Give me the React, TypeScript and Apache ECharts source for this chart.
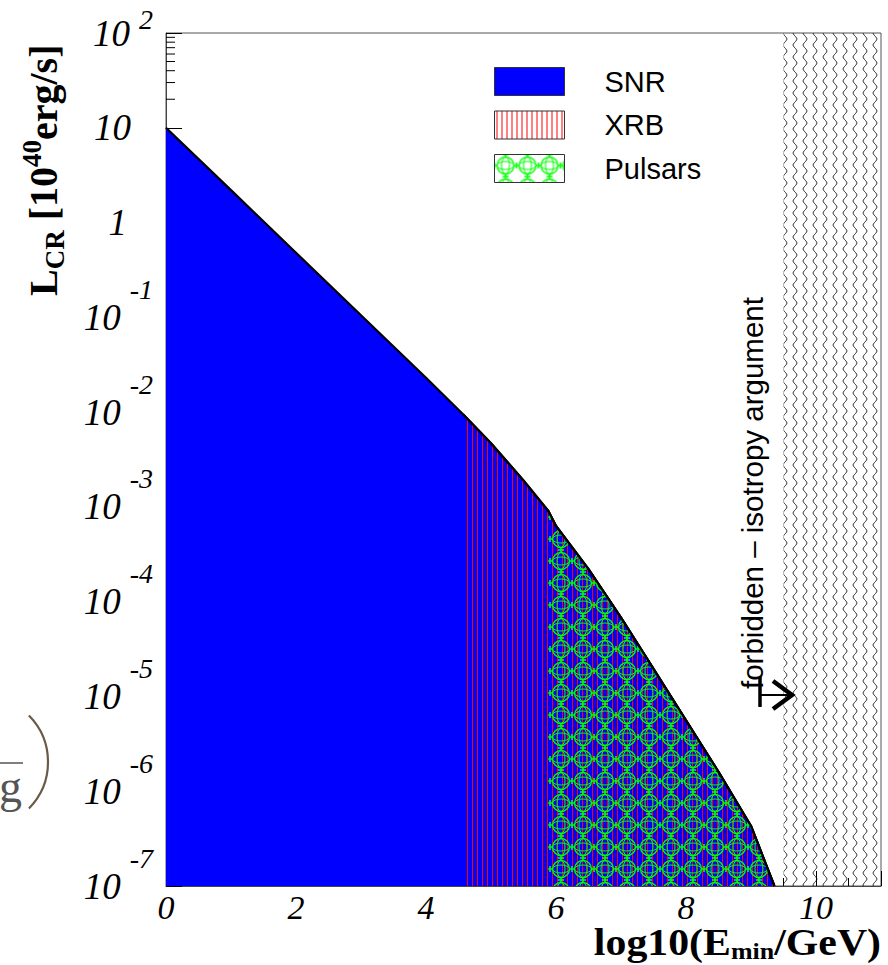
import React, { useEffect, useRef } from 'react';
import * as echarts from 'echarts';

// ---- data ----
const energyLog = [0, 1, 2, 3, 4, 4.57, 5, 5.5, 5.88, 6, 6.5, 7, 7.5, 8, 8.5, 9, 9.36];
const luminosity = [10, 2.2, 0.48, 0.105, 0.023, 0.0095, 0.0047, 0.0019, 0.00091, 0.00063, 0.00022, 0.000068, 0.0000195, 0.0000056, 0.0000016, 0.00000043, 0.0000001];
const seriesNames = ['SNR', 'XRB', 'Pulsars'];
const xrbStart = 4.57;
const pulsarStart = 5.88;
const forbiddenRange = [9.5, 11];
const xRange = [0, 11];
const yRange = [1e-7, 100];
const yMinorTicks = [20, 30, 40, 50, 60, 70, 80, 90];
const forbiddenLabel = 'forbidden – isotropy argument';

const SERIF = '"Liberation Serif", "Times New Roman", serif';
const SANS = '"Liberation Sans", Arial, sans-serif';

function makeCanvas(w: number, h: number, draw: (ctx: CanvasRenderingContext2D) => void) {
  const c = document.createElement('canvas');
  c.width = w;
  c.height = h;
  const ctx = c.getContext('2d')!;
  draw(ctx);
  return c;
}
function pattern(c: HTMLCanvasElement) {
  return { image: c, repeat: 'repeat', imageWidth: c.width, imageHeight: c.height } as any;
}

export default function App() {
  const ref = useRef<HTMLDivElement>(null);
  useEffect(() => {
    document.body.style.margin = '0';
    const chart = echarts.init(ref.current!, null, { renderer: 'svg' });

    const redLines = makeCanvas(5, 4, (ctx) => {
      ctx.fillStyle = '#ff0000';
      ctx.fillRect(2, 0, 1, 4);
    });
    const pulsarTile = makeCanvas(22, 22, (ctx) => {
      ctx.strokeStyle = '#00ff00';
      ctx.lineWidth = 1.3;
      ctx.beginPath(); ctx.arc(11, 11, 8.5, 0, Math.PI * 2); ctx.stroke();
      ctx.lineWidth = 1;
      ctx.beginPath(); ctx.ellipse(11, 11, 4, 8.5, 0, 0, Math.PI * 2); ctx.stroke();
      ctx.beginPath(); ctx.ellipse(11, 11, 8.5, 4, 0, 0, Math.PI * 2); ctx.stroke();
      ctx.lineWidth = 1.6;
      for (const [cx, cy] of [[0, 11], [22, 11], [11, 0], [11, 22]]) {
        ctx.beginPath();
        ctx.moveTo(cx - 3, cy); ctx.lineTo(cx + 3, cy);
        ctx.moveTo(cx, cy - 3); ctx.lineTo(cx, cy + 3);
        ctx.stroke();
      }
    });
    const wavy = makeCanvas(10, 12, (ctx) => {
      ctx.strokeStyle = '#000';
      ctx.lineWidth = 1;
      ctx.beginPath();
      for (let i = 0; i <= 48; i++) {
        const y = i * 0.25;
        const x = 5 + 1.8 * Math.sin((2 * Math.PI * y) / 12);
        if (i === 0) ctx.moveTo(x, y); else ctx.lineTo(x, y);
      }
      ctx.stroke();
    });

    const blue = '#0000ff';
    const xrbFill = pattern(redLines);
    const pulsarFill = pattern(pulsarTile);
    const wavyFill = pattern(wavy);

    const curve = energyLog.map((x, i) => [x, luminosity[i]]);
    const xrbCurve = curve.filter((p) => p[0] >= xrbStart);
    const pulsarCurve = curve.filter((p) => p[0] >= pulsarStart);

    const lineStyle = { color: '#000', width: 2.2 };
    const baseText = { fontFamily: SERIF, fontStyle: 'italic', fontWeight: 'normal', fontSize: 37, color: '#000' };
    const expText = { fontFamily: SERIF, fontStyle: 'italic', fontWeight: 'normal', fontSize: 28, lineHeight: 28, color: '#000', verticalAlign: 'top' };

    const option: any = {
      animation: false,
      backgroundColor: '#fff',
      grid: {
        left: 166, right: 7, top: 33, bottom: 79,
        show: true, borderColor: '#555', borderWidth: 1,
        containLabel: false, outerBoundsMode: 'none',
      },
      legend: {
        orient: 'vertical',
        left: 489, top: 62,
        itemWidth: 70, itemHeight: 28, itemGap: 14.5,
        icon: 'rect',
        selectedMode: false,
        textStyle: { fontFamily: SANS, fontSize: 29, color: '#000', padding: [0, 0, 0, 35] },
        data: [
          { name: seriesNames[0], itemStyle: { color: blue, borderColor: '#333', borderWidth: 1 } },
          { name: seriesNames[1], itemStyle: { color: xrbFill, borderColor: '#333', borderWidth: 1 } },
          { name: seriesNames[2], itemStyle: { color: pulsarFill, borderColor: '#333', borderWidth: 1 } },
        ],
      },
      xAxis: {
        type: 'value', min: xRange[0], max: xRange[1], interval: 2,
        axisLine: { show: true, onZero: false, lineStyle: { color: '#444', width: 1 } },
        axisTick: { show: true, inside: true, length: 15, lineStyle: { color: '#000', width: 1 } },
        minorTick: { show: true, splitNumber: 4, length: 8, lineStyle: { color: '#000', width: 1 } },
        splitLine: { show: false },
        axisLabel: {
          margin: 8, showMaxLabel: false,
          fontFamily: SERIF, fontStyle: 'italic', fontSize: 34, lineHeight: 26, color: '#000',
        },
      },
      yAxis: {
        type: 'log', logBase: 10, min: yRange[0], max: yRange[1],
        axisLine: { show: true, lineStyle: { color: '#444', width: 1 } },
        axisTick: { show: true, inside: true, length: 16, lineStyle: { color: '#000', width: 1 } },
        splitLine: { show: false },
        axisLabel: {
          margin: 13,
          fontFamily: SERIF, fontStyle: 'italic', fontSize: 37, color: '#000',
          formatter: (v: number) => {
            const e = Math.round(Math.log10(v));
            if (e === 1) return '{ten|10}';
            if (e === 0) return '{one|1}';
            return e > 0 ? `{bp|10}{ep|${e}}` : `{bn|10}{en|${e}}`;
          },
          rich: {
            ten: { ...baseText, lineHeight: 37, padding: [0, 22, 0, 0] },
            one: { ...baseText, lineHeight: 37, padding: [0, 26, 0, 0] },
            bp: { ...baseText, lineHeight: 56 },
            ep: { ...expText, padding: [0, 0, 0, 9] },
            bn: { ...baseText, lineHeight: 84 },
            en: { ...expText, padding: [0, 0, 0, 9] },
          },
        },
      },
      series: [
        {
          type: 'custom',
          name: 'minor ticks',
          silent: true,
          data: yMinorTicks.map((v) => [xRange[0], v]),
          renderItem: (params: any, api: any) => {
            const p = api.coord([api.value(0), api.value(1)]);
            return {
              type: 'line',
              shape: { x1: p[0], y1: p[1], x2: p[0] + 9, y2: p[1] },
              style: { stroke: '#000', lineWidth: 1 },
            };
          },
          z: 1,
        },
        {
          name: seriesNames[0],
          type: 'line',
          data: curve,
          symbol: 'none',
          showSymbol: false,
          lineStyle,
          itemStyle: { color: blue },
          areaStyle: { color: blue, opacity: 1, origin: yRange[0] },
          markArea: {
            silent: true,
            itemStyle: { color: wavyFill, opacity: 1, borderWidth: 0 },
            data: [[{ xAxis: forbiddenRange[0] }, { xAxis: forbiddenRange[1] }]],
          },
          z: 2,
        },
        {
          name: seriesNames[1],
          type: 'line',
          data: xrbCurve,
          symbol: 'none',
          showSymbol: false,
          lineStyle,
          itemStyle: { color: '#ff0000' },
          areaStyle: { color: xrbFill, opacity: 1, origin: yRange[0] },
          z: 3,
        },
        {
          name: seriesNames[2],
          type: 'line',
          data: pulsarCurve,
          symbol: 'none',
          showSymbol: false,
          lineStyle,
          itemStyle: { color: '#00ff00' },
          areaStyle: { color: pulsarFill, opacity: 1, origin: yRange[0] },
          z: 4,
        },
      ],
      graphic: [
        {
          type: 'text', x: 43, y: 296, rotation: Math.PI / 2, silent: true,
          style: {
            text: '{b|L}{s|CR}{b| [10}{p|40}{b|erg/s]}',
            align: 'left', verticalAlign: 'middle',
            rich: {
              b: { fontFamily: SERIF, fontWeight: 'bold', fontSize: 40, lineHeight: 50, fill: '#000' },
              s: { fontFamily: SERIF, fontWeight: 'bold', fontSize: 27, lineHeight: 27, verticalAlign: 'bottom', fill: '#000' },
              p: { fontFamily: SERIF, fontWeight: 'bold', fontSize: 27, lineHeight: 38, verticalAlign: 'top', fill: '#000' },
            },
          },
        },
        {
          type: 'text', x: 881, y: 924, scaleX: 1.13, silent: true,
          style: {
            text: '{b|log10(E}{s|min}{b|/GeV)}',
            align: 'right', verticalAlign: 'top',
            rich: {
              b: { fontFamily: SERIF, fontWeight: 'bold', fontSize: 37, lineHeight: 37, verticalAlign: 'top', fill: '#000' },
              s: { fontFamily: SERIF, fontWeight: 'bold', fontSize: 23, lineHeight: 18, padding: [16, 0, 0, 0], verticalAlign: 'top', fill: '#000' },
            },
          },
        },
        {
          type: 'text', x: 752, y: 689, rotation: Math.PI / 2, silent: true,
          style: { text: forbiddenLabel, fontFamily: SANS, fontSize: 29.5, fill: '#000', align: 'left', verticalAlign: 'middle' },
        },
        { type: 'line', silent: true, shape: { x1: 760, y1: 677, x2: 760, y2: 707 }, style: { stroke: '#000', lineWidth: 3.5 } },
        { type: 'line', silent: true, shape: { x1: 760, y1: 695, x2: 790, y2: 695 }, style: { stroke: '#000', lineWidth: 2 } },
        { type: 'polyline', silent: true, shape: { points: [[773, 681], [792, 695], [773, 709]] }, style: { stroke: '#000', lineWidth: 4.5, fill: null } },
        // fragment of neighbouring formula at the left edge
        {
          type: 'text', x: -1, y: 809, silent: true,
          style: { text: 'g', fontFamily: SERIF, fontSize: 46, fill: '#555', align: 'left', verticalAlign: 'bottom' },
        },
        { type: 'line', silent: true, shape: { x1: 0, y1: 763, x2: 23, y2: 763 }, style: { stroke: '#555', lineWidth: 1.5 } },
        { type: 'arc', silent: true, shape: { cx: -18, cy: 762, r: 66, startAngle: -0.78, endAngle: 0.78 }, style: { stroke: '#6b5a48', lineWidth: 2.2, fill: null } },
      ],
    };

    chart.setOption(option);
    return () => chart.dispose();
  }, []);
  return <div ref={ref} style={{ width: 888, height: 965 }} />;
}
